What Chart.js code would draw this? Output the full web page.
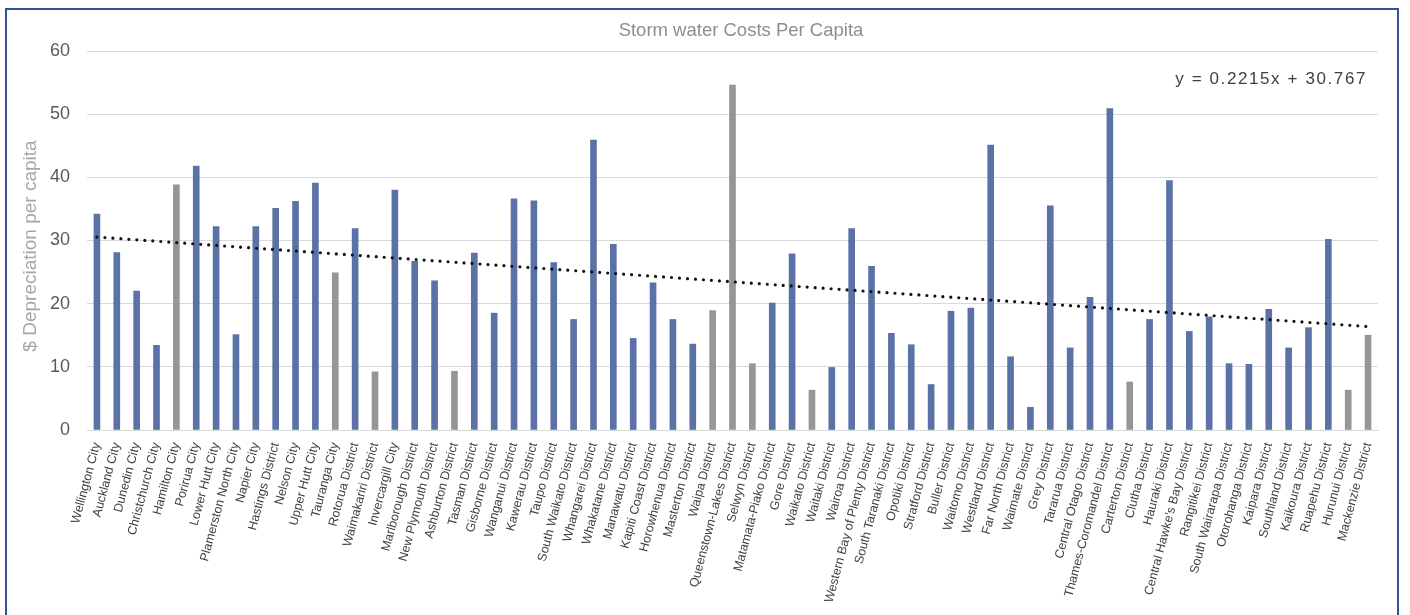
<!DOCTYPE html>
<html><head><meta charset="utf-8">
<script src="https://cdn.jsdelivr.net/npm/chart.js@4/dist/chart.umd.min.js"></script>
<style>
html,body{margin:0;padding:0;background:#fff;overflow:hidden}
#wrap{position:absolute;left:0;top:0;width:1410px;height:615px}
#frame{position:absolute;left:5px;top:8px;width:1394px;height:700px;border:2px solid #2c5593;box-sizing:border-box;pointer-events:none}
#eq{position:absolute;right:43px;top:69px;font:17px "Liberation Sans",Arial,sans-serif;letter-spacing:1.6px;color:#404040;white-space:nowrap}
#ttl{position:absolute;left:541px;width:400px;top:19px;text-align:center;font:18.5px "Liberation Sans",Arial,sans-serif;color:#8e8e8e;white-space:nowrap}
#ytl{position:absolute;left:30px;top:246px;transform:translate(-50%,-50%) rotate(-90deg);font:19px "Liberation Sans",Arial,sans-serif;color:#a6a6a6;white-space:nowrap}
</style></head><body>
<div id="wrap"><canvas id="c" width="1410" height="615"></canvas></div>
<div id="frame"></div>
<div id="ttl">Storm water Costs Per Capita</div>
<div id="ytl">$ Depreciation per capita</div>
<div id="eq">y = 0.2215x + 30.767</div>
<script>
const categories = ["Wellington City","Auckland City","Dunedin City","Christchurch City","Hamilton City","Porirua City","Lower Hutt City","Plamerston North City","Napier City","Hastings District","Nelson City","Upper Hutt City","Tauranga City","Rotorua District","Waimakariri District","Invercargill City","Marlborough District","New Plymouth District","Ashburton District","Tasman District","Gisborne District","Wanganui District","Kawerau District","Taupo District","South Waikato District","Whangarei District","Whakatane District","Manawatu District","Kapiti Coast District","Horowhenua District","Masterton District","Waipa District","Queenstown-Lakes District","Selwyn District","Matamata-Piako District","Gore District","Waikato District","Waitaki District","Wairoa District","Western Bay of Plenty District","South Taranaki District","Opotiki District","Stratford District","Buller District","Waitomo District","Westland District","Far North District","Waimate District","Grey District","Tararua District","Central Otago District","Thames-Coromandel District","Carterton District","Clutha District","Hauraki District","Central Hawke's Bay District","Rangitikei District","South Wairarapa District","Otorohanga District","Kaipara District","Southland District","Kaikoura District","Ruapehu District","Hurunui District","Mackenzie District"];
const values = [34.2,28.1,22.0,13.4,38.8,41.8,32.2,15.1,32.2,35.1,36.2,39.1,24.9,31.9,9.2,38.0,26.7,23.6,9.3,28.0,18.5,36.6,36.3,26.5,17.5,45.9,29.4,14.5,23.3,17.5,13.6,18.9,54.6,10.5,20.1,27.9,6.3,9.9,31.9,25.9,15.3,13.5,7.2,18.8,19.3,45.1,11.6,3.6,35.5,13.0,21.0,50.9,7.6,17.5,39.5,15.6,17.9,10.5,10.4,19.1,13.0,16.2,30.2,6.3,15.0];
const grayCategories = ["Hamilton City","Tauranga City","Waimakariri District","Ashburton District","Waipa District","Queenstown-Lakes District","Selwyn District","Waikato District","Carterton District","Hurunui District","Mackenzie District"];
const trendStart = 30.55;
const trendEnd = 16.37;
const yTicks = [0,10,20,30,40,50,60];

const BLUE = '#5b72a6', GRAY = '#96969a';
const barColors = categories.map(c => grayCategories.includes(c) ? GRAY : BLUE);

new Chart(document.getElementById('c'), {
  data: {
    labels: categories,
    datasets: [
      { type: 'line', data: [{x: categories[0], y: trendStart}, {x: categories[categories.length-1], y: trendEnd}],
        borderColor: '#111', borderWidth: 3.2, borderDash: [0, 8], borderCapStyle: 'round',
        pointRadius: 0, fill: false, order: 0 },
      { type: 'bar', data: values, backgroundColor: barColors, barThickness: 6, borderWidth: 0, order: 1 }
    ]
  },
  options: {
    responsive: false, animation: false,
    layout: { padding: { left: 0, right: 32, top: 51, bottom: 0 } },
    plugins: {
      legend: { display: false }, tooltip: { enabled: false }, title: { display: false }
    },
    scales: {
      x: { type: 'category', offset: true,
        grid: { display: false },
        border: { display: true, color: '#d9d9d9', width: 1 },
        ticks: { autoSkip: false, maxRotation: 75, minRotation: 75, padding: 3, color: '#404040',
          font: { family: '"Liberation Sans", Arial, sans-serif', size: 12.5 } },
        afterFit: s => { s.height = 185; } },
      y: { min: 0, max: 60,
        afterBuildTicks: s => { s.ticks = yTicks.map(v => ({ value: v })); },
        grid: { color: '#d9d9d9', lineWidth: 1, drawTicks: false },
        border: { display: false },
        ticks: { padding: 17, color: '#595959', font: { family: '"Liberation Sans", Arial, sans-serif', size: 18 } },
        title: { display: false },
        afterFit: s => { s.width = 87; } }
    }
  }
});
</script>
</body></html>
